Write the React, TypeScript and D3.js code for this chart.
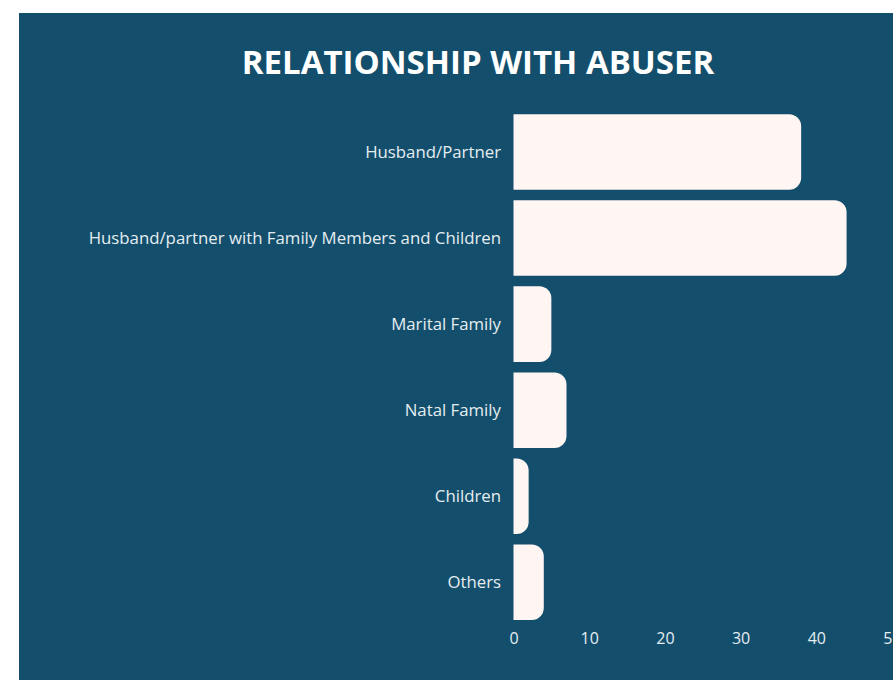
import { useEffect, useRef } from 'react';
import * as d3 from 'd3';

// Data
const categories = [
  'Husband/Partner',
  'Husband/partner with Family Members and Children',
  'Marital Family',
  'Natal Family',
  'Children',
  'Others',
];
const values = [38, 44, 5, 7, 2, 4];
const xTicks = [0, 10, 20, 30, 40, 50];
const title = 'RELATIONSHIP WITH ABUSER';

const W = 893;
const H = 680;
const PANEL = '#134f6c';
const BAR = '#fff6f4';
const TEXT = '#e6edf1';
const FONT = '"Open Sans", "Noto Sans", sans-serif';

// rect with only the right corners rounded
function barPath(x0: number, y0: number, w: number, h: number, r: number) {
  const rr = Math.min(r, w, h / 2);
  return `M${x0},${y0}H${x0 + w - rr}A${rr},${rr} 0 0 1 ${x0 + w},${y0 + rr}` +
    `V${y0 + h - rr}A${rr},${rr} 0 0 1 ${x0 + w - rr},${y0 + h}H${x0}Z`;
}

export default function App() {
  const svgRef = useRef<SVGSVGElement>(null);

  useEffect(() => {
    document.body.style.margin = '0';
    if (!svgRef.current) return;
    const svg = d3.select(svgRef.current);
    svg.selectAll('*').remove();

    // Background panel
    svg.append('rect')
      .attr('x', 19).attr('y', 13)
      .attr('width', W - 19).attr('height', H - 13)
      .attr('fill', PANEL);

    svg.append('text')
      .attr('x', 478).attr('y', 74)
      .attr('text-anchor', 'middle')
      .style('font-family', FONT)
      .style('font-weight', 700)
      .style('font-size', '33px')
      .attr('fill', '#ffffff')
      .text(title);

    const x = d3.scaleLinear().domain([0, 50]).range([513.5, 892]);
    const y = d3.scaleBand<string>()
      .domain(categories)
      .range([109, 625.3])
      .paddingInner(0.122)
      .paddingOuter(0.061);

    const g = svg.append('g');

    g.selectAll('.bar')
      .data(categories)
      .join('path')
      .attr('class', 'bar')
      .attr('d', (d, i) => barPath(x(0), y(d)!, x(values[i]) - x(0), y.bandwidth(), 12))
      .attr('fill', BAR);

    g.selectAll('.cat')
      .data(categories)
      .join('text')
      .attr('class', 'cat')
      .attr('x', 501)
      .attr('y', d => y(d)! + y.bandwidth() / 2)
      .attr('dy', '0.35em')
      .attr('text-anchor', 'end')
      .style('font-family', FONT)
      .style('font-size', '16.8px')
      .attr('fill', TEXT)
      .text(d => d);

    // x axis; the last tick runs off the right edge as in the original
    const axis = svg.append('g')
      .attr('transform', 'translate(0,625)')
      .call(d3.axisBottom(x).tickValues(xTicks).tickSize(0).tickPadding(8));
    axis.select('.domain').remove();
    axis.selectAll('text')
      .style('font-family', FONT)
      .style('font-size', '16px')
      .attr('fill', TEXT);
  }, []);

  return (
    <div style={{ position: 'absolute', left: 0, top: 0, width: W, height: H, background: '#fff' }}>
      <svg ref={svgRef} width={W} height={H} />
    </div>
  );
}
